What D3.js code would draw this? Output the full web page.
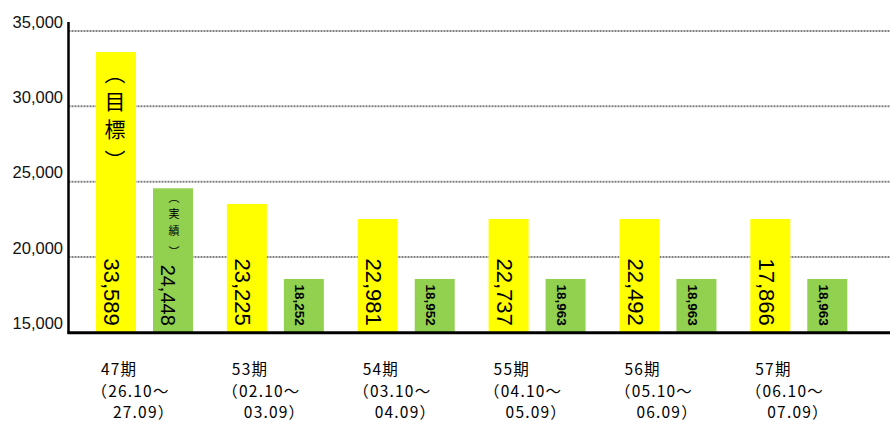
<!DOCTYPE html>
<html>
<head>
<meta charset="utf-8">
<script src="https://cdn.jsdelivr.net/npm/d3@7"></script>
<style>
  html, body { margin: 0; padding: 0; background: #fff; }
  svg { display: block; }
</style>
</head>
<body>
<svg id="chart" width="890" height="421"></svg>
<script>
// ---- data ----
const categories = ['47期', '53期', '54期', '55期', '56期', '57期'];
const periodStart = ['（26.10～', '（02.10～', '（03.10～', '（04.10～', '（05.10～', '（06.10～'];
const periodEnd = ['27.09）', '03.09）', '04.09）', '05.09）', '06.09）', '07.09）'];
// bar heights as drawn in the picture
const targetValues = [33600, 23520, 22520, 22520, 22520, 22520];
const actualValues = [24560, 18540, 18540, 18540, 18540, 18540];
// value labels printed inside the bars
const targetLabels = ['33,589', '23,225', '22,981', '22,737', '22,492', '17,866'];
const actualLabels = ['24,448', '18,252', '18,952', '18,963', '18,963', '18,963'];
const targetNote = ['︵', '目', '標', '︶'];
const actualNote = ['︵', '実', '績', '︶'];
const yTicks = [15000, 20000, 25000, 30000, 35000];

// ---- chart ----
const svg = d3.select('#chart');
const W = 890, H = 421;
const y = d3.scaleLinear().domain([15000, 35000]).range([332.3, 31]);
const x = d3.scaleBand().domain(categories).range([90, 90 + 6 * 130.86]).paddingInner(0).paddingOuter(0);
const sub = d3.scaleBand().domain(['target', 'actual']).range([6, 103]).paddingInner(0.298).paddingOuter(0);
const bw = sub.bandwidth();
const xAxisLeft = 68.5;

const rows = categories.map((c, i) => ({
  cat: c, target: targetValues[i], actual: actualValues[i],
  tLabel: targetLabels[i], aLabel: actualLabels[i], i
}));

// gridlines
svg.append('g').selectAll('line').data(yTicks.filter(t => t > 15000)).join('line')
  .attr('x1', xAxisLeft).attr('x2', W)
  .attr('y1', d => y(d)).attr('y2', d => y(d))
  .attr('stroke', '#808080').attr('stroke-width', 2).attr('stroke-dasharray', '2,1');

// y tick labels
svg.append('g').selectAll('text').data(yTicks).join('text')
  .attr('x', 63).attr('y', d => y(d) - 9)
  .attr('dy', '0.35em')
  .attr('text-anchor', 'end')
  .attr('font-family', 'Liberation Sans, Arial, sans-serif')
  .attr('font-size', 16.5)
  .attr('fill', '#111')
  .text(d => d3.format(',')(d));

// bars
const g = svg.append('g');
g.selectAll('rect.t').data(rows).join('rect').attr('class', 't')
  .attr('x', d => x(d.cat) + sub('target')).attr('width', bw)
  .attr('y', d => y(d.target)).attr('height', d => y(15000) - y(d.target))
  .attr('fill', '#ffff00');
g.selectAll('rect.a').data(rows).join('rect').attr('class', 'a')
  .attr('x', d => x(d.cat) + sub('actual')).attr('width', bw)
  .attr('y', d => y(d.actual)).attr('height', d => y(15000) - y(d.actual))
  .attr('fill', '#92d050');

// axes lines
svg.append('line').attr('x1', xAxisLeft).attr('x2', xAxisLeft).attr('y1', 22).attr('y2', y(15000) + 1.5)
  .attr('stroke', '#000').attr('stroke-width', 2.5);
svg.append('line').attr('x1', xAxisLeft - 1).attr('x2', W).attr('y1', y(15000) + 0.5).attr('y2', y(15000) + 0.5)
  .attr('stroke', '#000').attr('stroke-width', 3);

// value labels (rotated)
const labelEnd = y(15000) - 6.5;
g.selectAll('text.tl').data(rows).join('text').attr('class', 'tl')
  .attr('transform', d => `translate(${x(d.cat) + sub('target') + bw / 2 - 4},${labelEnd}) rotate(90)`)
  .attr('text-anchor', 'end').attr('dy', '0.35em')
  .attr('font-family', 'Liberation Sans, Arial, sans-serif')
  .attr('font-size', 22).attr('fill', '#000')
  .text(d => d.tLabel);
g.selectAll('text.al').data(rows).join('text').attr('class', 'al')
  .attr('transform', d => `translate(${x(d.cat) + sub('actual') + bw / 2 - (d.i === 0 ? 5 : 4)},${labelEnd}) rotate(90)`)
  .attr('text-anchor', 'end').attr('dy', '0.35em')
  .attr('font-family', d => d.i === 0 ? 'Liberation Sans, Arial, sans-serif' : 'Liberation Sans Narrow, Liberation Sans, Arial, sans-serif')
  .attr('font-weight', d => d.i === 0 ? 'normal' : 'bold')
  .attr('font-size', d => d.i === 0 ? 20 : 13.5).attr('fill', '#000')
  .text(d => d.aLabel);

// vertical notes in first group
const tOff = [21, 48.5, 76.5, 108];
svg.append('g').selectAll('text').data(targetNote).join('text')
  .attr('x', x(categories[0]) + sub('target') + bw / 2 - 1)
  .attr('y', (d, k) => y(targetValues[0]) + tOff[k])
  .attr('dy', '0.38em').attr('text-anchor', 'middle')
  .attr('font-family', 'Noto Sans CJK JP, sans-serif')
  .attr('font-size', 21).attr('fill', '#000')
  .text(d => d);
const aOff = [10, 25.5, 43, 63.5];
svg.append('g').selectAll('text').data(actualNote).join('text')
  .attr('x', x(categories[0]) + sub('actual') + bw / 2 + 1)
  .attr('y', (d, k) => y(actualValues[0]) + aOff[k])
  .attr('dy', '0.36em').attr('text-anchor', 'middle')
  .attr('font-family', 'Noto Sans CJK JP, sans-serif')
  .attr('font-size', 11).attr('fill', '#000')
  .text(d => d);

// category labels
const cl = svg.append('g')
  .attr('font-family', 'Noto Sans CJK JP, sans-serif')
  .attr('font-size', 15.5).attr('fill', '#000');
cl.selectAll('text.c1').data(rows).join('text').attr('class', 'c1')
  .attr('x', d => x(d.cat) + sub('target') + 5).attr('y', 375)
  .attr('letter-spacing', 1.2)
  .text(d => d.cat);
cl.selectAll('text.c2').data(rows).join('text').attr('class', 'c2')
  .attr('x', d => x(d.cat) + sub('target') - 4.5).attr('y', 396.5)
  .attr('letter-spacing', 1.2)
  .text((d, i) => periodStart[i]);
cl.selectAll('text.c3').data(rows).join('text').attr('class', 'c3')
  .attr('x', d => x(d.cat) + sub('target') + 17).attr('y', 418)
  .attr('letter-spacing', 1.2)
  .text((d, i) => periodEnd[i]);
</script>
</body>
</html>
